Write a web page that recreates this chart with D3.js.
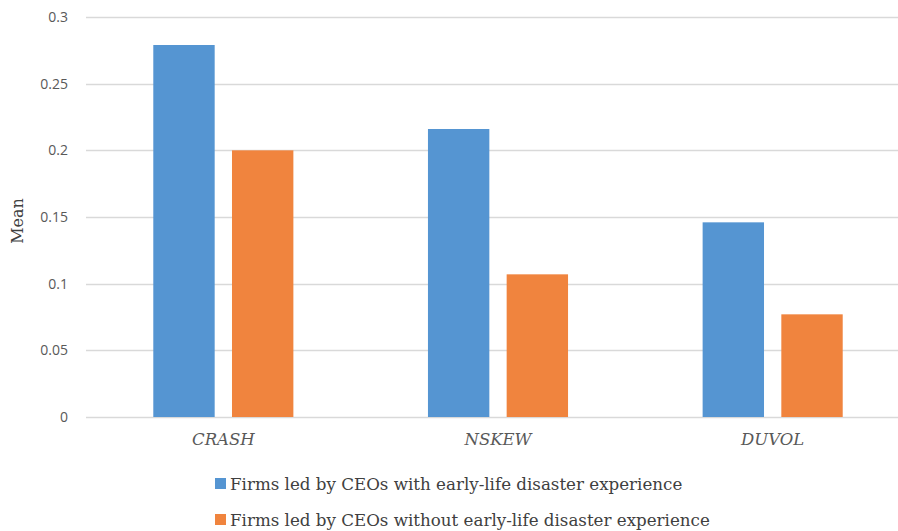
<!DOCTYPE html>
<html>
<head>
<meta charset="utf-8">
<script src="https://cdn.jsdelivr.net/npm/d3@7"></script>
<style>
	body { margin: 0; background: #fff; }
	svg { display: block; }
	.serif { font-family: "DejaVu Serif", serif; }
</style>
</head>
<body>
<div id="chart"></div>
<script>
var categories = ["CRASH", "NSKEW", "DUVOL"];
var seriesNames = [
	"Firms led by CEOs with early-life disaster experience",
	"Firms led by CEOs without early-life disaster experience"
];
var withDisaster = [0.279, 0.216, 0.146];
var withoutDisaster = [0.2, 0.107, 0.077];
var yTicks = [0, 0.05, 0.1, 0.15, 0.2, 0.25, 0.3];
var colors = ["#5595d2", "#f0843e"];

var width = 898,
	height = 531;
var margin = { top: 17, bottom: 114, left: 86 };
var plotRight = 910; // plot area runs a little past the window edge

var svg = d3.select("#chart")
	.append("svg")
	.attr("width", width)
	.attr("height", height);

var x0 = d3.scaleBand()
	.domain(categories)
	.range([margin.left, plotRight]);

var x1 = d3.scaleBand()
	.domain([0, 1])
	.range([x0.bandwidth() * 0.245, x0.bandwidth() * 0.755])
	.paddingInner(0.22);

var y = d3.scaleLinear()
	.domain([0, 0.3])
	.range([height - margin.bottom, margin.top]);

// gridlines
svg.append("g")
	.selectAll("line")
	.data(yTicks)
	.enter()
	.append("line")
	.attr("x1", margin.left)
	.attr("x2", width)
	.attr("y1", function (d) { return Math.round(y(d)) + 0.5; })
	.attr("y2", function (d) { return Math.round(y(d)) + 0.5; })
	.attr("stroke", "#d9d9d9")
	.attr("stroke-width", 1.5);

// y axis labels
var yAxis = d3.axisLeft(y)
	.tickValues(yTicks)
	.tickSize(0)
	.tickPadding(18)
	.tickFormat(function (d) { return String(d); });

svg.append("g")
	.attr("transform", "translate(" + margin.left + ",0)")
	.call(yAxis)
	.call(function (g) { g.select(".domain").remove(); })
	.selectAll("text")
	.attr("fill", "#595959")
	.style("font-family", "'Open Sans', 'Noto Sans', sans-serif")
	.style("font-size", "14px");

// bars
var groups = svg.append("g")
	.selectAll("g")
	.data(categories)
	.enter()
	.append("g")
	.attr("transform", function (d) { return "translate(" + x0(d) + ",0)"; });

groups.selectAll("rect")
	.data(function (d, i) {
		return [
			{ s: 0, value: withDisaster[i] },
			{ s: 1, value: withoutDisaster[i] }
		];
	})
	.enter()
	.append("rect")
	.attr("x", function (d) { return x1(d.s); })
	.attr("width", x1.bandwidth())
	.attr("y", function (d) { return y(d.value); })
	.attr("height", function (d) { return y(0) - y(d.value); })
	.attr("fill", function (d) { return colors[d.s]; });

// x axis labels
var xAxis = d3.axisBottom(x0).tickSize(0).tickPadding(16);
svg.append("g")
	.attr("transform", "translate(0," + y(0) + ")")
	.call(xAxis)
	.call(function (g) { g.select(".domain").remove(); })
	.selectAll("text")
	.attr("class", "serif")
	.attr("fill", "#595959")
	.style("font-style", "italic")
	.style("font-size", "16.5px");

// y axis title
svg.append("text")
	.attr("class", "serif")
	.attr("transform", "translate(23,221) rotate(-90)")
	.attr("text-anchor", "middle")
	.attr("fill", "#404040")
	.style("font-size", "16px")
	.text("Mean");

// legend
var legend = svg.append("g")
	.selectAll("g")
	.data(seriesNames)
	.enter()
	.append("g")
	.attr("transform", function (d, i) { return "translate(215," + (478 + i * 36) + ")"; });

legend.append("rect")
	.attr("width", 11)
	.attr("height", 11)
	.attr("fill", function (d, i) { return colors[i]; });

legend.append("text")
	.attr("class", "serif")
	.attr("x", 15)
	.attr("y", 12)
	.attr("fill", "#404040")
	.style("font-size", "16.7px")
	.text(function (d) { return d; });
</script>
</body>
</html>
